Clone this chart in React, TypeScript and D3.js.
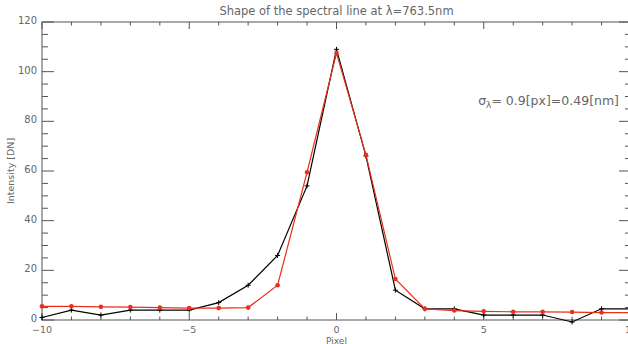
import React from "react";
import * as d3 from "d3";

const pixels = [-10, -9, -8, -7, -6, -5, -4, -3, -2, -1, 0, 1, 2, 3, 4, 5, 6, 7, 8, 9, 10];
const blackSeries = [1, 4, 2, 4, 4, 4, 7, 14, 26, 54, 109, 66, 12, 4.5, 4.5, 2, 2, 2, -0.8, 4.5, 4.5];
const redSeries = [5.5, 5.5, 5.3, 5.2, 5, 4.8, 4.8, 5, 14, 59.5, 107.5, 66.5, 16.5, 4.5, 3.8, 3.5, 3.3, 3.3, 3.2, 3, 3];
const xMajorTicks = [-10, -5, 0, 5, 10];
const yMajorTicks = [0, 20, 40, 60, 80, 100, 120];
const titleText = "Shape of the spectral line at λ=763.5nm";
const xLabel = "Pixel";
const yLabel = "Intensity [DN]";

const W = 628;
const H = 344;
const L = 42, R = 631, T = 22, B = 320;
const AX = "#555";
const TXT = "#666";
const FONT = "DejaVu Sans, sans-serif";

export default function App() {
  const x = d3.scaleLinear().domain([-10, 10]).range([L, R]);
  const y = d3.scaleLinear().domain([0, 120]).range([B, T]);
  const xMinor = d3.range(-10, 11, 1);
  const yMinor = d3.range(0, 121, 5);
  const line = d3
    .line<number>()
    .x((_, i) => x(pixels[i]))
    .y((d) => y(d));

  return (
    <svg width={W} height={H} style={{ position: "fixed", left: 0, top: 0, background: "#fff" }}>
      <rect x={0} y={0} width={W} height={H} fill="#fff" />
      {/* frame */}
      <rect x={L} y={T} width={R - L} height={B - T} fill="none" stroke={AX} strokeWidth={1} />
      {/* x ticks */}
      {xMinor.map((v) => {
        const major = xMajorTicks.includes(v);
        const len = major ? 7 : 3.5;
        return (
          <g key={"xt" + v}>
            <line x1={x(v)} x2={x(v)} y1={B} y2={B - len} stroke={AX} />
            <line x1={x(v)} x2={x(v)} y1={T} y2={T + len} stroke={AX} />
          </g>
        );
      })}
      {/* y ticks */}
      {yMinor.map((v) => {
        const major = yMajorTicks.includes(v);
        const len = major ? 12 : 6;
        return (
          <g key={"yt" + v}>
            <line x1={L} x2={L + len} y1={y(v)} y2={y(v)} stroke={AX} />
            <line x1={R} x2={R - len} y1={y(v)} y2={y(v)} stroke={AX} />
          </g>
        );
      })}
      {/* x labels */}
      {xMajorTicks.map((v) => (
        <text key={"xl" + v} x={x(v)} y={B + 13} fontSize={9.5} fill={TXT} fontFamily={FONT} textAnchor="middle">
          {v < 0 ? "\u2212" + Math.abs(v) : String(v)}
        </text>
      ))}
      {yMajorTicks.map((v) => (
        <text key={"yl" + v} x={L - 5} y={y(v) + 2} fontSize={10} fill={TXT} fontFamily={FONT} textAnchor="end">
          {v}
        </text>
      ))}
      <text x={x(0)} y={343.5} fontSize={9} fill={TXT} fontFamily={FONT} textAnchor="middle">
        {xLabel}
      </text>
      <text
        transform={`translate(14,${(T + B) / 2}) rotate(-90)`}
        fontSize={9.5}
        fill={TXT}
        fontFamily={FONT}
        textAnchor="middle"
      >
        {yLabel}
      </text>
      <text x={x(0)} y={15} fontSize={11.5} fill={TXT} fontFamily={FONT} textAnchor="middle">
        {titleText}
      </text>
      <text x={619} y={105} fontSize={12.5} fill={TXT} fontFamily={FONT} textAnchor="end">
        σ<tspan fontSize={9} dy={3}>λ</tspan>
        <tspan dy={-3}>= 0.9[px]=0.49[nm]</tspan>
      </text>
      {/* black series */}
      <path d={line(blackSeries) || ""} fill="none" stroke="#000" strokeWidth={1.2} />
      {blackSeries.map((v, i) => (
        <g key={"bm" + i} stroke="#000" strokeWidth={1}>
          <line x1={x(pixels[i]) - 2.5} x2={x(pixels[i]) + 2.5} y1={y(v)} y2={y(v)} />
          <line x1={x(pixels[i])} x2={x(pixels[i])} y1={y(v) - 2.5} y2={y(v) + 2.5} />
        </g>
      ))}
      {/* red series */}
      <path d={line(redSeries) || ""} fill="none" stroke="#e8301c" strokeWidth={1.2} />
      {redSeries.map((v, i) => (
        <circle key={"rm" + i} cx={x(pixels[i])} cy={y(v)} r={2.3} fill="#e8301c" />
      ))}
    </svg>
  );
}
